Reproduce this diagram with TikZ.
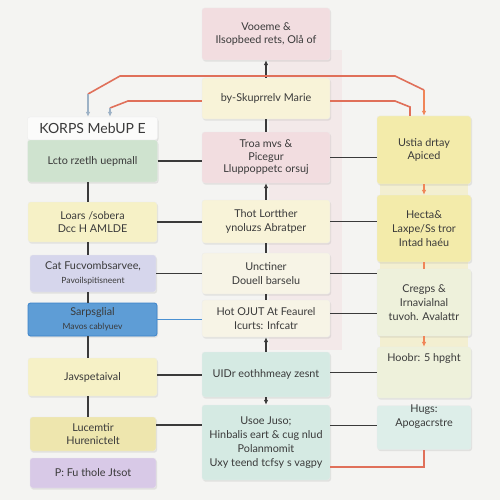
\documentclass[tikz,border=0pt]{standalone}
\usepackage{fontspec}
\setmainfont{Lato}
\usetikzlibrary{arrows.meta,shadows}
\definecolor{ink}{HTML}{3A3A3A}
\definecolor{paper}{HTML}{F4F4F2}
\definecolor{rosy}{HTML}{F2DDE0}
\definecolor{cream}{HTML}{F8F3D8}
\definecolor{ivory}{HTML}{F7F4E6}
\definecolor{mint}{HTML}{D5EAE3}
\definecolor{sage}{HTML}{CFE3CF}
\definecolor{butter}{HTML}{F6F1C6}
\definecolor{straw}{HTML}{EEE6AE}
\definecolor{lilac}{HTML}{D6D6EC}
\definecolor{sky}{HTML}{5E9DD6}
\definecolor{skyedge}{HTML}{3A82C8}
\definecolor{mauve}{HTML}{D8C9E7}
\definecolor{lemon}{HTML}{F3EBAA}
\definecolor{pale}{HTML}{EEF1DB}
\definecolor{brick}{HTML}{E0705A}
\definecolor{amber}{HTML}{F08558}
\definecolor{slate}{HTML}{9DB2C6}
\definecolor{azure}{HTML}{4A90D2}

\begin{document}
\begin{tikzpicture}[x=1pt,y=-1pt,
            box/.style={rounded corners=2.5pt, draw=black!8, line width=0.3pt,
                align=center, text=ink, inner sep=1pt,
                font=\fontsize{10.8}{13.8}\selectfont,
                drop shadow={opacity=0.16, shadow xshift=1pt, shadow yshift=-1.6pt}},
            link/.style={draw=ink, line width=1.1pt},
            redlink/.style={draw=brick, line width=1.6pt},
            orlink/.style={draw=amber, line width=1.5pt},
            tip/.style={-{Latex[length=5pt,width=4.5pt]}},
            small/.style={font=\fontsize{8.5}{10}\selectfont}]
            \fill[paper] (0,0) rectangle (500,500);
            \useasboundingbox (0,0) rectangle (500,500);
            \fill[rosy, opacity=0.45] (269,50) rectangle (342,350);
            \fill[lemon, opacity=0.45] (380,180) rectangle (468,348);
            % centre column
            \node[box, fill=rosy, minimum width=128pt, minimum height=52pt] (c1) at (266,34) {Vooeme \&\\Ilsopbeed rets, Olå of};
            \node[box, fill=cream, minimum width=128pt, minimum height=41pt] (c2) at (266,98.5) {by-Skuprrelv Marie};
            \node[box, fill=rosy, minimum width=128pt, minimum height=51pt] (c3) at (266,157.5) {Troa mvs \&\\[-1.5pt]Picegur\\[-1pt]Lluppoppetc orsuj};
            \node[box, fill=cream, minimum width=128pt, minimum height=43pt] (c4) at (266,221.5) {Thot Lortther\\ynoluzs Abratper};
            \node[box, fill=ivory, minimum width=128pt, minimum height=41pt] (c5) at (266,273.5) {Unctiner\\Douell barselu};
            \node[box, fill=ivory, minimum width=128pt, minimum height=37pt] (c6) at (266,318.5) {Hot OJUT At Feaurel\\Icurts: Infcatr};
            \node[box, fill=mint, minimum width=128pt, minimum height=45pt] (c7) at (266,374.5) {UIDr eothhmeay zesnt};
            \node[box, fill=mint, minimum width=128pt, minimum height=75pt] (c8) at (266,442.5) {Usoe Juso;\\Hinbalis eart \& cug nlud\\Polanmomit\\Uxy teend tcfsy s vagpy};
            % left column
            \node[box, fill=white!60!paper, minimum width=130pt, minimum height=23pt, font=\fontsize{14}{16}\selectfont] (hdr) at (92.5,128.5) {KORPS MebUP E};
            \node[box, fill=sage, minimum width=130pt, minimum height=42pt] (l0) at (92.5,161) {Lcto rzetlh uepmall};
            \node[box, fill=butter, minimum width=129pt, minimum height=40pt] (l1) at (92.5,222) {Loars /sobera\\Dcc H AMLDE};
            \node[box, fill=lilac, minimum width=126pt, minimum height=37pt] (l2) at (93,273.5) {Cat Fucvombsarvee,\\{\fontsize{8.5}{10}\selectfont Pavoilspitisneent}};
            \node[box, fill=sky, draw=skyedge, line width=0.8pt, minimum width=129pt, minimum height=33pt] (l3) at (92.5,319.5) {Sarpsglial\\{\fontsize{8.5}{10}\selectfont Mavos cablyuev}};
            \node[box, fill=butter, minimum width=129pt, minimum height=38pt] (l4) at (92.5,377) {Javspetaival};
            \node[box, fill=straw, minimum width=126pt, minimum height=34pt] (l5) at (93,434) {Lucemtir\\Hurenictelt};
            \node[box, fill=mauve, minimum width=126pt, minimum height=30pt] (l6) at (93,473) {P: Fu thole Jtsot};
            % right column
            \node[box, fill=lemon, minimum width=94pt, minimum height=68pt] (r1) at (424,150) {Ustia drtay\\Apiced};
            \node[box, fill=lemon, minimum width=94pt, minimum height=67pt] (r2) at (424,228.5) {Hecta\&\\Laxpe/Ss tror\\Intad haéu};
            \node[box, fill=pale, minimum width=94pt, minimum height=67pt] (r3) at (424,302.5) {Cregps \&\\Irnavialnal\\tuvoh. Avalattr};
            \node[box, fill=pale, minimum width=94pt, minimum height=51pt] (r4) at (424,372.5) {};
            \node[text=ink, font=\fontsize{10.8}{13.8}\selectfont] (r4t) at (424,359) {Hoobr: 5 hpght};
            \node[box, fill=mint!80!white, minimum width=94pt, minimum height=44pt] (r5) at (424,427.5) {};
            \node[text=ink, align=center, font=\fontsize{10.8}{13.8}\selectfont] (r5t) at (424,417) {Hugs:\\Apogacrstre};
            % centre spine
            \draw[link, tip] (c2) -- (c1);
            \draw[link] (c2) -- (c3);
            \draw[link, tip] (c4) -- (c3);
            \draw[link] (c4) -- (c5);
            \draw[link] (c5) -- (c6);
            \draw[link, tip] (c7) -- (c6);
            \draw[link, tip] (c7) -- (c8);
            % left spine
            \draw[link] ([xshift=-4.5pt]l0.south) -- ([xshift=-4.5pt]l1.north);
            \draw[link] ([xshift=-4.5pt]l1.south) -- ([xshift=-5pt]l2.north);
            \draw[link] ([xshift=-5pt]l2.south) -- ([xshift=-4.5pt]l3.north);
            \draw[link] ([xshift=-4.5pt]l3.south) -- ([xshift=-4.5pt]l4.north);
            \draw[link] ([xshift=-4.5pt]l4.south) -- ([xshift=-5pt]l5.north);
            % rungs
            \draw[link] (l0.east) -- (l0.east -| c3.west);
            \draw[link] (l1.east) -- (l1.east -| c4.west);
            \draw[link] (l2.east) -- (l2.east -| c5.west);
            \draw[draw=azure, line width=1.1pt] (l3.east) -- (l3.east -| c6.west);
            \draw[link] ([yshift=2pt]l4.east) -- ([yshift=2pt]l4.east -| c7.west);
            \draw[link] ([yshift=9pt]l5.east) -- ([yshift=9pt]l5.east -| c8.west);
            \draw[link] (c3.east) -- (c3.east -| r1.west);
            \draw[link] (c4.east) -- (c4.east -| r2.west);
            \draw[link] (c5.east) -- (c5.east -| r3.west);
            \draw[link] ([yshift=5pt]c6.east) -- ([yshift=5pt]c6.east -| r3.west);
            \draw[link] ([yshift=2pt]c7.east) -- ([yshift=2pt]c7.east -| r4.west);
            \draw[link] ([yshift=17pt]c8.east) -- ([yshift=17pt]c8.east -| r5.west);
            % right spine
            \draw[orlink, tip] (r1) -- (r2);
            \draw[orlink] (r2) -- (r3);
            \draw[orlink, tip] (r3) -- (r4);
            \draw[redlink] ([yshift=-24.5pt]c8.east) -| (r5.south);
            % loops over the top
            \coordinate (u1) at (88,94);
            \coordinate (u2) at (120,76);
            \coordinate (u3) at (395,76);
            \coordinate (u4) at (424,90);
            \draw[redlink] (u1) -- (u2) -- (u3) -- (u4);
            \draw[orlink, tip] (u4) -- (r1.north);
            \draw[draw=slate, line width=1.5pt, tip] (u1) -- (u1 |- hdr.north);
            \coordinate (v1) at (110,108);
            \coordinate (v2) at (128,101);
            \coordinate (w1) at (395,101);
            \coordinate (w2) at (410,107);
            \draw[redlink] ([yshift=-2.5pt]c2.west) -- (v2) -- (v1);
            \draw[draw=slate, line width=1.5pt, tip] (v1) -- (v1 |- hdr.north);
            \draw[redlink] ([yshift=-2.5pt]c2.east) -- (w1) -- (w2) -- (w2 |- r1.north);
        \end{tikzpicture}
\end{document}
